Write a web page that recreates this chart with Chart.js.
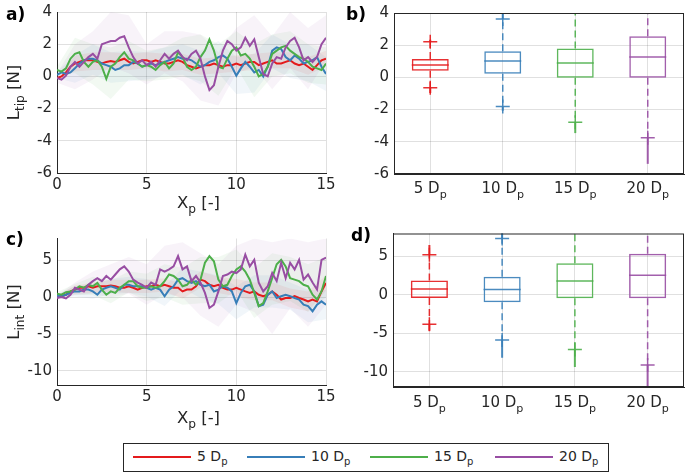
<!DOCTYPE html>
<html lang="en">
<head>
<meta charset="UTF-8">
<title>Lift force panels</title>
<script src="https://cdn.jsdelivr.net/npm/chart.js@4.4.1/dist/chart.umd.min.js"></script>
<style>
  body { margin: 0; background: #fff; font-family: "DejaVu Sans", sans-serif; }
  #page { position: relative; width: 685px; height: 474px; overflow: hidden; }
  canvas { position: absolute; }
  .lbl { position: absolute; font-weight: bold; font-size: 17px; color: #000; }
  #legend { position: absolute; left: 123px; top: 443px; width: 484px; height: 27px; border: 1px solid #262626; font-size: 14px; color: #262626; }
  #legend .it { position: absolute; top: 4px; white-space: nowrap; }
  #legend .ln { display: inline-block; width: 58px; height: 2px; vertical-align: middle; margin-right: 6px; }
  #legend sub { font-size: 10px; }
</style>
</head>
<body>
<div id="page">
  <canvas id="cA" width="340" height="220" style="left:0;top:0"></canvas>
  <canvas id="cB" width="345" height="220" style="left:340px;top:0"></canvas>
  <canvas id="cC" width="340" height="210" style="left:0;top:220px"></canvas>
  <canvas id="cD" width="345" height="210" style="left:340px;top:220px"></canvas>
  <div class="lbl" style="left:6px;top:4px">a)</div>
  <div class="lbl" style="left:346px;top:4px">b)</div>
  <div class="lbl" style="left:6px;top:229px">c)</div>
  <div class="lbl" style="left:351px;top:225px">d)</div>
  <div id="legend">
    <span class="it" style="left:9px"><span class="ln" style="background:#e41a1c"></span>5 D<sub>p</sub></span>
    <span class="it" style="left:123px"><span class="ln" style="background:#377eb8"></span>10 D<sub>p</sub></span>
    <span class="it" style="left:246px"><span class="ln" style="background:#4daf4a"></span>15 D<sub>p</sub></span>
    <span class="it" style="left:371px"><span class="ln" style="background:#984ea3"></span>20 D<sub>p</sub></span>
  </div>
</div>

<script>
// ---- data ----
const seriesNames = ['5 D_{p}', '10 D_{p}', '15 D_{p}', '20 D_{p}'];
const colors = ['#e41a1c', '#377eb8', '#4daf4a', '#984ea3'];
const tipTicks = [-6, -4, -2, 0, 2, 4];
const intTicks = [-10, -5, 0, 5];

const xp = [0,0.25,0.5,0.75,1,1.25,1.5,1.75,2,2.25,2.5,2.75,3,3.25,3.5,3.75,4,4.25,4.5,4.75,5,5.25,5.5,5.75,6,6.25,6.5,6.75,7,7.25,7.5,7.75,8,8.25,8.5,8.75,9,9.25,9.5,9.75,10,10.25,10.5,10.75,11,11.25,11.5,11.75,12,12.25,12.5,12.75,13,13.25,13.5,13.75,14,14.25,14.5,14.75,15];
const xBand = [0,1,2,3,4,5,6,7,8,9,10,11,12,13,14,15];

// a) tip lift
const tip5  = [-0.1,0,0.25,0.6,0.8,0.9,1.0,1.0,1.0,0.9,0.8,0.9,0.95,0.9,1.0,1.1,0.9,0.8,0.9,1.0,1.0,0.9,1.0,0.9,0.8,0.8,0.9,1.0,0.9,0.7,0.6,0.5,0.6,0.7,0.7,0.8,0.7,0.6,0.7,0.7,0.8,0.7,0.8,0.9,0.9,0.7,0.8,0.9,1.0,0.8,0.8,0.9,1.0,0.8,0.7,0.8,0.6,0.4,0.7,1.0,1.1];
const tip10 = [0.1,0.25,0.15,0.25,0.5,0.8,1.0,1.1,1.1,1.0,0.8,0.7,0.6,0.4,0.5,0.7,0.7,0.9,0.8,0.6,0.7,0.8,0.7,0.8,0.9,1.0,1.1,1.2,1.1,1.1,1.0,0.8,0.6,0.7,0.9,1.0,1.2,1.3,1.1,0.6,0.05,0.5,0.9,0.6,0.25,0.4,0,0.6,1.6,1.8,1.7,1.2,1.0,1.3,1.1,0.8,0.9,1.0,1.2,0.6,0.15];
const tip15 = [0.4,0.3,0.5,1.1,1.4,1.5,0.9,0.6,0.9,1.0,0.6,-0.15,0.6,0.8,1.2,1.5,1.1,1.0,0.8,0.6,0.7,0.6,0.4,0.7,0.9,0.5,0.8,1.5,1.2,0.6,0.4,0.6,1.2,1.6,2.3,1.6,0.6,0.5,1.1,1.6,1.8,1.3,1.4,1.1,0.6,0,0.15,0.6,1.4,1.6,1.8,1.9,1.6,1.4,1.2,1.1,0.9,0.6,0.5,0.4,0.8];
const tip20 = [-0.1,-0.2,0.05,0.6,0.9,0.6,0.9,1.2,1.4,1.1,2.0,2.1,2.2,2.2,2.4,2.5,1.8,1.2,0.8,1.0,0.7,0.9,0.6,1.0,1.4,1.1,1.4,1.6,1.2,1.0,1.4,1.6,1.1,0,-0.85,-0.55,0.6,1.6,2.2,2.0,1.6,1.8,2.4,1.9,2.3,1.2,0.15,0,0.8,1.2,1.1,1.8,2.2,2.4,1.8,1.0,1.2,0.9,1.2,2.0,2.4];
const tipUp = [
  [0.0,1.3,1.5,1.5,1.4,1.5,1.4,1.4,1.1,1.2,1.3,1.4,1.5,1.5,1.2,1.6],
  [0.3,1.3,2.0,1.5,1.6,1.5,1.8,2.0,1.6,2.2,1.2,1.4,2.6,2.0,2.0,1.2],
  [0.6,2.4,2.0,1.8,2.2,1.6,1.8,2.4,2.6,2.0,2.8,2.0,2.6,2.8,2.0,1.8],
  [0.2,2.0,2.8,4.0,3.8,2.0,2.8,2.8,2.6,1.5,3.0,3.8,2.5,4.0,3.0,3.8]
];
const tipLo = [
  [-0.2,0.3,0.4,0.4,0.4,0.5,0.3,0.4,0.1,0.2,0.3,0.4,0.5,0.5,0.1,0.6],
  [-0.1,-0.4,0.1,-0.4,-0.3,-0.2,0.0,0.1,-0.5,0.2,-1.1,-1.0,0.5,-0.1,-0.3,-0.9],
  [0.2,0.2,-0.5,-1.4,-0.2,-0.3,-0.2,0.0,-0.3,-1.2,0.6,-1.3,0.0,0.2,-0.4,-0.5],
  [-0.4,-0.8,-0.2,0.6,0.2,-0.5,0.2,-0.3,-1.5,-1.8,0.2,0.6,-0.8,0.5,-0.8,1.0]
];

// c) interaction lift
const int5  = [0.05,0.15,0.35,0.8,1.05,1.3,1.3,1.5,1.3,1.5,1.5,1.5,1.6,1.5,1.3,1.3,1.5,1.3,1.05,1.3,1.5,1.5,1.7,1.5,1.7,1.5,1.3,1.3,0.8,1.05,1.05,1.5,2.4,2.2,1.7,1.5,1.7,1.3,1.05,1.05,1.3,1.05,0.8,0.6,0.8,0.35,0.15,0.35,0.8,0.35,-0.3,-0.1,-0.1,0.15,-0.1,-0.3,-0.55,-0.3,-0.55,0.8,1.95];
const int10 = [0.2,0.15,0.35,0.6,0.8,0.8,1.05,1.05,0.8,0.35,1.05,1.3,1.5,1.3,1.05,1.7,1.7,1.5,1.5,1.5,1.3,1.05,1.3,1.05,0.15,1.05,1.5,2.4,2.6,2.2,1.95,2.2,1.7,1.5,1.7,0.8,1.05,1.5,1.3,0.8,-0.8,0.6,1.5,1.7,0.8,-1.2,-1.0,0.35,0.8,-0.1,0.15,0.35,0.15,-0.1,-0.3,-1.0,-1.2,-1.9,-1.0,-0.55,-1.0];
const int15 = [0.5,0.35,0.7,0.8,1.05,1.5,1.3,1.7,1.5,1.95,1.05,0.35,0.8,0.6,1.3,1.7,2.2,2.2,1.5,1.3,1.3,1.5,1.3,1.5,2.2,3.1,2.9,2.4,1.5,1.7,2.4,1.7,2.4,4.7,5.6,4.9,2.4,1.5,1.7,2.9,3.8,4.2,3.5,2.4,0.6,-1.2,-0.8,0.8,2.6,4.5,5.1,4.2,2.6,2.4,2.2,1.7,1.5,0.35,-0.3,0.8,2.9];
const int20 = [-0.1,0.05,-0.15,0.35,1.3,1.05,0.8,1.7,2.2,2.6,2.2,2.9,2.4,3.1,3.8,4.2,3.5,2.4,2.0,1.7,1.3,2.0,1.7,3.8,3.5,3.8,4.2,5.6,3.8,4.2,2.2,2.9,2.0,0.6,-1.45,-1.0,0.8,2.9,3.1,3.5,3.3,3.8,5.8,4.2,5.1,2.0,0.8,1.5,3.3,2.2,4.7,2.6,4.7,3.8,5.1,2.4,3.1,2.0,1.05,5.1,5.4];
const intUp = [
  [0.2,1.6,2.0,2.4,2.4,2.4,2.6,1.8,3.5,2.8,2.5,2.0,2.0,1.2,0.8,3.0],
  [0.4,1.5,1.8,2.5,2.8,2.5,1.5,4.0,3.5,3.0,1.5,3.0,3.0,2.0,1.0,1.0],
  [0.7,1.8,2.8,2.3,3.5,3.2,4.5,4.0,5.5,5.5,6.5,4.0,6.0,5.5,4.5,5.5],
  [0.2,2.0,3.5,4.5,5.5,4.5,7.0,7.5,6.0,4.5,7.0,8.0,7.5,8.0,7.5,8.0]
];
const intLo = [
  [-0.1,0.5,0.6,0.8,0.6,0.6,0.8,-0.2,1.3,0.6,0.1,-0.4,-0.4,-1.4,-1.9,0.9],
  [0.0,0.1,-0.2,0.5,0.6,0.1,-1.2,1.2,-0.1,-0.9,-3.0,-1.4,-1.4,-1.7,-3.4,-3.0],
  [0.3,0.3,0.3,-0.8,0.7,-0.5,0.0,-1.0,-0.8,-0.8,1.0,-2.8,-1.0,-0.5,-2.0,0.0],
  [-0.3,0.3,0.5,0.0,0.5,-1.0,0.5,0.0,-2.5,-4.0,-1.0,-2.0,-5.0,-1.5,-4.0,-1.0]
];

// b) box plot statistics, tip lift
const tipQ1 = [0.41, 0.23, -0.02, -0.02];
const tipMed = [0.77, 1.02, 0.89, 1.26];
const tipQ3 = [1.14, 1.62, 1.80, 2.55];
const tipWLo = [-0.64, -1.80, -2.78, -3.75];
const tipWHi = [2.22, 3.63, 4.6, 4.6];
const tipMin = [-0.97, -2.07, -3.46, -5.37];
const tipMax = [2.34, 4.0, 4.6, 4.6];

// d) box plot statistics, interaction lift
const intQ1 = [-0.39, -0.95, -0.43, -0.43];
const intMed = [0.78, 0.69, 1.82, 2.55];
const intQ3 = [1.86, 2.38, 4.11, 5.37];
const intWLo = [-3.81, -5.89, -7.10, -9.13];
const intWHi = [5.24, 7.36, 9, 9];
const intMin = [-4.68, -8.2, -9.4, -12.5];
const intMax = [6.5, 8.2, 9, 9];

// ---- helpers ----
const FONT = '"DejaVu Sans"';
const INK = '#262626';
const GRID = 'rgba(0,0,0,0.12)';

function parseSub(str) {
  const parts = [];
  const re = /_\{([^}]*)\}/g;
  let last = 0, m;
  while ((m = re.exec(str))) {
    if (m.index > last) parts.push([str.slice(last, m.index), false]);
    parts.push([m[1], true]);
    last = re.lastIndex;
  }
  if (last < str.length) parts.push([str.slice(last), false]);
  return parts;
}

// centred text with subscripts, baseline at y
function subText(ctx, str, x, y, size) {
  const parts = parseSub(str);
  const fMain = size + 'px ' + FONT, fSub = (size * 0.74) + 'px ' + FONT;
  let w = 0;
  parts.forEach(p => { ctx.font = p[1] ? fSub : fMain; w += ctx.measureText(p[0]).width; });
  let cx = x - w / 2;
  ctx.fillStyle = INK;
  ctx.textAlign = 'left';
  ctx.textBaseline = 'alphabetic';
  parts.forEach(p => {
    ctx.font = p[1] ? fSub : fMain;
    ctx.fillText(p[0], cx, y + (p[1] ? size * 0.32 : 0));
    cx += ctx.measureText(p[0]).width;
  });
}

function alpha(hex, a) {
  const n = parseInt(hex.slice(1), 16);
  return `rgba(${n >> 16},${(n >> 8) & 255},${n & 255},${a})`;
}

function pts(xs, ys) { return xs.map((x, i) => ({ x: x, y: ys[i] })); }

function lineDatasets(lines, ups, los) {
  const ds = [];
  // purple on top, red at the bottom
  lines.forEach((ys, i) => {
    ds.push({ data: pts(xp, ys), borderColor: colors[i], borderWidth: 2, pointRadius: 0, fill: false, order: 3 - i });
  });
  ups.forEach((up, i) => {
    ds.push({ data: pts(xBand, los[i]), borderWidth: 0, pointRadius: 0, fill: false, order: 10 });
    ds.push({ data: pts(xBand, up), borderWidth: 0, pointRadius: 0, fill: '-1', backgroundColor: alpha(colors[i], 0.07), order: 10 });
  });
  return ds;
}

// axis titles drawn with subscripts
function titles(xTitle, yTitle, xBase, xShift) {
  return {
    id: 'titles',
    afterDraw(chart) {
      const { ctx, chartArea: a } = chart;
      ctx.save();
      subText(ctx, xTitle, (a.left + a.right) / 2 + xShift, a.bottom + xBase, 16.5);
      ctx.translate(19, (a.top + a.bottom) / 2);
      ctx.rotate(-Math.PI / 2);
      subText(ctx, yTitle, 0, 0, 16.5);
      ctx.restore();
    }
  };
}

function yScale(ymin, ymax, ticks, yw) {
  return {
    min: ymin, max: ymax,
    afterBuildTicks: s => { s.ticks = ticks.map(v => ({ value: v })); },
    ticks: { color: INK, font: { family: FONT, size: 15 }, padding: 5 },
    grid: { color: GRID, drawTicks: false },
    border: { color: INK, width: 1 },
    afterFit: s => { s.width = yw; s.paddingTop = 0; s.paddingBottom = 0; }
  };
}

function lineChart(id, lines, ups, los, ymin, ymax, ticks, box, xTitle, yTitle) {
  return new Chart(document.getElementById(id), {
    type: 'line',
    data: { datasets: lineDatasets(lines, ups, los) },
    options: {
      responsive: false, animation: false, devicePixelRatio: 1,
      layout: { padding: { top: box.top, right: box.right, left: 0, bottom: 0 } },
      plugins: { legend: { display: false }, tooltip: { enabled: false } },
      scales: {
        x: {
          type: 'linear', min: 0, max: 15,
          ticks: { stepSize: 5, color: INK, font: { family: FONT, size: 15 }, padding: 3, maxRotation: 0 },
          grid: { color: GRID, drawTicks: false },
          border: { color: INK, width: 1 },
          afterFit: s => { s.height = box.xh; s.paddingLeft = 0; s.paddingRight = 0; }
        },
        y: yScale(ymin, ymax, ticks, box.yw)
      }
    },
    plugins: [titles(xTitle, yTitle, box.tb, 7)]
  });
}

// medians, whiskers, outlier marks and the frame for the box panels
function boxPlugin(med, wlo, whi, mn, mx, labBase) {
  return {
    id: 'boxes',
    afterDatasetsDraw(chart) {
      const { ctx, chartArea: a, scales: { y } } = chart;
      const meta = chart.getDatasetMeta(0);
      const boxes = chart.data.datasets[0].data;
      ctx.save();
      ctx.beginPath();
      ctx.rect(a.left, a.top, a.width, a.height);
      ctx.clip();
      meta.data.forEach((bar, i) => {
        const cx = bar.x, hw = bar.width / 2;
        ctx.strokeStyle = alpha(colors[i], 0.9);
        ctx.lineWidth = 1.5;
        ctx.setLineDash([]);
        ctx.beginPath();
        ctx.moveTo(cx - hw, y.getPixelForValue(med[i]));
        ctx.lineTo(cx + hw, y.getPixelForValue(med[i]));
        ctx.stroke();
        // dashed whiskers
        ctx.setLineDash([7, 4]);
        ctx.beginPath();
        ctx.moveTo(cx, y.getPixelForValue(boxes[i][1]));
        ctx.lineTo(cx, y.getPixelForValue(whi[i]));
        ctx.moveTo(cx, y.getPixelForValue(boxes[i][0]));
        ctx.lineTo(cx, y.getPixelForValue(wlo[i]));
        ctx.stroke();
        ctx.setLineDash([]);
        // dense outliers
        ctx.lineWidth = 2;
        ctx.beginPath();
        ctx.moveTo(cx, y.getPixelForValue(whi[i]));
        ctx.lineTo(cx, y.getPixelForValue(mx[i]));
        ctx.moveTo(cx, y.getPixelForValue(wlo[i]));
        ctx.lineTo(cx, y.getPixelForValue(mn[i]));
        ctx.stroke();
        // '+' marks
        ctx.lineWidth = 1.5;
        [whi[i], wlo[i]].forEach(v => {
          const py = y.getPixelForValue(v);
          ctx.beginPath();
          ctx.moveTo(cx - 7, py); ctx.lineTo(cx + 7, py);
          ctx.moveTo(cx, py - 7); ctx.lineTo(cx, py + 7);
          ctx.stroke();
        });
      });
      ctx.restore();
      ctx.save();
      ctx.strokeStyle = INK;
      ctx.lineWidth = 1;
      ctx.strokeRect(a.left + 0.5, a.top + 0.5, a.width - 1, a.height - 1);
      const xs = chart.scales.x;
      chart.data.labels.forEach((l, i) => subText(ctx, l, xs.getPixelForValue(i), a.bottom + labBase, 15));
      ctx.restore();
    }
  };
}

function boxChart(id, q1, q3, med, wlo, whi, mn, mx, ymin, ymax, ticks, box) {
  return new Chart(document.getElementById(id), {
    type: 'bar',
    data: {
      labels: seriesNames,
      datasets: [{
        data: q1.map((v, i) => [v, q3[i]]),
        backgroundColor: 'rgba(0,0,0,0)',
        borderColor: colors.map(c => alpha(c, 0.9)),
        borderWidth: 1.5,
        borderSkipped: false,
        categoryPercentage: 1,
        barPercentage: 0.51
      }]
    },
    options: {
      responsive: false, animation: false, devicePixelRatio: 1,
      layout: { padding: { top: box.top, right: box.right, left: 0, bottom: 0 } },
      plugins: { legend: { display: false }, tooltip: { enabled: false } },
      scales: {
        x: {
          ticks: { display: false },
          grid: { color: GRID, drawTicks: false, offset: false },
          border: { color: INK, width: 1 },
          afterFit: s => { s.height = box.xh; s.paddingLeft = 0; s.paddingRight = 0; }
        },
        y: yScale(ymin, ymax, ticks, box.yw)
      }
    },
    plugins: [boxPlugin(med, wlo, whi, mn, mx, box.lb)]
  });
}

lineChart('cA', [tip5, tip10, tip15, tip20], tipUp, tipLo, -6, 4, tipTicks,
  { top: 12, right: 14, xh: 47, yw: 57, tb: 35 }, 'X_{p} [-]', 'L_{tip} [N]');
lineChart('cC', [int5, int10, int15, int20], intUp, intLo, -12, 8, intTicks,
  { top: 18.5, right: 14, xh: 44.5, yw: 57, tb: 37 }, 'X_{p} [-]', 'L_{int} [N]');
boxChart('cB', tipQ1, tipQ3, tipMed, tipWLo, tipWHi, tipMin, tipMax, -6, 4, tipTicks,
  { top: 13, right: 1, xh: 46, yw: 54, lb: 19 });
boxChart('cD', intQ1, intQ3, intMed, intWLo, intWHi, intMin, intMax, -12, 8, intTicks,
  { top: 13.5, right: 1, xh: 43, yw: 53, lb: 20 });
</script>
</body>
</html>
